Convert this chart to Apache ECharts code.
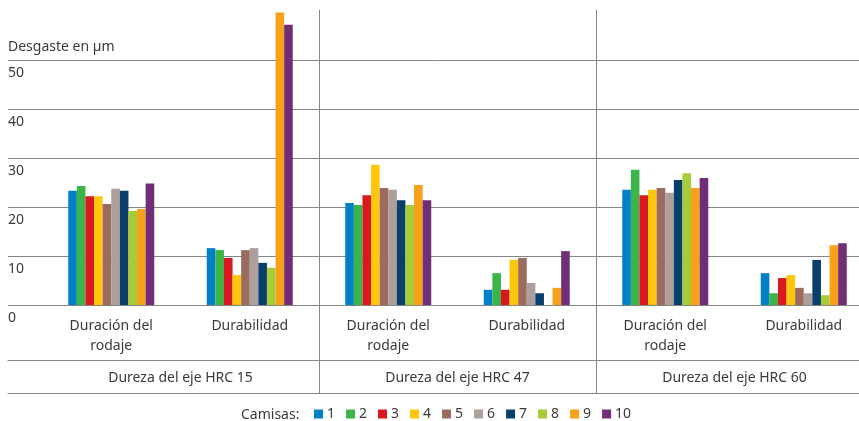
<!DOCTYPE html>
<html>
<head>
<meta charset="utf-8">
<script src="https://cdn.jsdelivr.net/npm/echarts@6/dist/echarts.min.js"></script>
<style>
  html, body { margin: 0; padding: 0; background: #fff; }
  #chart { width: 859px; height: 421px; }
</style>
</head>
<body>
<div id="chart"></div>
<script>
// categorias y grupos
const categories = ['Duración del\nrodaje', 'Durabilidad', 'Duración del\nrodaje', 'Durabilidad', 'Duración del\nrodaje', 'Durabilidad'];
const groups = ['Dureza del eje HRC 15', 'Dureza del eje HRC 47', 'Dureza del eje HRC 60'];
const camisas = ['1', '2', '3', '4', '5', '6', '7', '8', '9', '10'];
const colors = ['#0080c6', '#3bb54a', '#d9181f', '#ffc60b', '#9b6b5f', '#ad9f9b', '#0b3f6b', '#a6cd39', '#f7a11a', '#6f2e76'];
const yTicks = [0, 10, 20, 30, 40, 50];

// desgaste en µm, una lista por camisa (6 categorias)
const c1 = [23.3, 11.6, 20.8, 3.1, 23.5, 6.5];
const c2 = [24.3, 11.2, 20.4, 6.5, 27.6, 2.4];
const c3 = [22.2, 9.6, 22.4, 3.1, 22.4, 5.5];
const c4 = [22.2, 6.1, 28.6, 9.2, 23.5, 6.1];
const c5 = [20.6, 11.2, 23.9, 9.6, 23.9, 3.5];
const c6 = [23.7, 11.6, 23.5, 4.5, 22.9, 2.4];
const c7 = [23.3, 8.6, 21.4, 2.4, 25.5, 9.2];
const c8 = [19.2, 7.6, 20.4, 0, 26.9, 2.0];
const c9 = [19.6, 59.7, 24.5, 3.5, 23.9, 12.2];
const c10 = [24.8, 57.2, 21.4, 11.0, 25.9, 12.6];
const values = [c1, c2, c3, c4, c5, c6, c7, c8, c9, c10];

const textColor = '#3a3a3a';
const lineColor = '#858585';
const font = 'Noto Sans';

const chart = echarts.init(document.getElementById('chart'));

chart.setOption({
    animation: false,
    textStyle: { fontFamily: font },
    title: [
        { text: 'Desgaste en µm', left: 8, top: 40, padding: 0,
          textStyle: { fontSize: 14, fontWeight: 'normal', color: textColor, fontFamily: font } },
        { text: 'Camisas:', left: 241, top: 408, padding: 0,
          textStyle: { fontSize: 14, fontWeight: 'normal', color: textColor, fontFamily: font } }
    ],
    legend: {
        data: camisas,
        left: 314, top: 407, padding: 0,
        icon: 'rect', itemWidth: 9, itemHeight: 9, itemGap: 11,
        textStyle: { fontSize: 14, color: textColor, fontFamily: font, padding: [0, 0, 0, -1] }
    },
    grid: [
        // barras (el ultimo grupo sigue un poco fuera del lienzo)
        { left: 42, right: -14, top: 11, bottom: 116, outerBoundsMode: 'none' },
        // lineas de valores
        { left: 8, right: 0, top: 11, bottom: 116, outerBoundsMode: 'none' },
        // separadores de grupos
        { left: 42, right: -14, top: 10, bottom: 28, outerBoundsMode: 'none' },
        // lineas inferiores
        { left: 8, right: 0, top: 360, bottom: 28, outerBoundsMode: 'none' }
    ],
    xAxis: [
        { type: 'category', gridIndex: 0, data: categories,
          axisLine: { show: false }, axisTick: { show: false },
          axisLabel: { interval: 0, margin: 11, fontSize: 14, lineHeight: 20, color: textColor, fontFamily: font } },
        { type: 'value', gridIndex: 1, show: false },
        { type: 'category', gridIndex: 2, data: groups,
          axisLine: { show: false }, axisTick: { show: false },
          axisLabel: { inside: true, margin: 8, fontSize: 14, color: textColor, fontFamily: font },
          splitLine: { show: true, interval: 0, showMinLine: false, showMaxLine: false,
                       lineStyle: { color: lineColor, width: 1 } } },
        { type: 'value', gridIndex: 3, position: 'bottom', min: 0, max: 1,
          axisLine: { show: true, lineStyle: { color: lineColor, width: 1 } },
          axisTick: { show: false }, axisLabel: { show: false }, splitLine: { show: false } },
        { type: 'value', gridIndex: 3, position: 'top', min: 0, max: 1,
          axisLine: { show: true, lineStyle: { color: lineColor, width: 1 } },
          axisTick: { show: false }, axisLabel: { show: false }, splitLine: { show: false } }
    ],
    yAxis: [
        { type: 'value', gridIndex: 0, min: 0, max: 60, show: false },
        { type: 'value', gridIndex: 1, min: 0, max: 60, interval: 10,
          axisLine: { show: false }, axisTick: { show: false },
          axisLabel: { inside: true, margin: 0, verticalAlign: 'top', padding: [6, 0, 0, 0],
                       fontSize: 14, color: textColor, fontFamily: font,
                       formatter: v => yTicks.includes(v) ? String(v) : '' },
          splitLine: { show: true, showMaxLine: false, lineStyle: { color: lineColor, width: 1 } } },
        { type: 'value', gridIndex: 2, min: 0, max: 1, show: false },
        { type: 'value', gridIndex: 3, min: 0, max: 1, show: false }
    ],
    series: camisas.map((name, i) => ({
        name: name,
        type: 'bar',
        xAxisIndex: 0,
        yAxisIndex: 0,
        data: values[i],
        barWidth: 8.6,
        barGap: '0%',
        itemStyle: { color: colors[i] },
        z: 5
    }))
});
</script>
</body>
</html>
